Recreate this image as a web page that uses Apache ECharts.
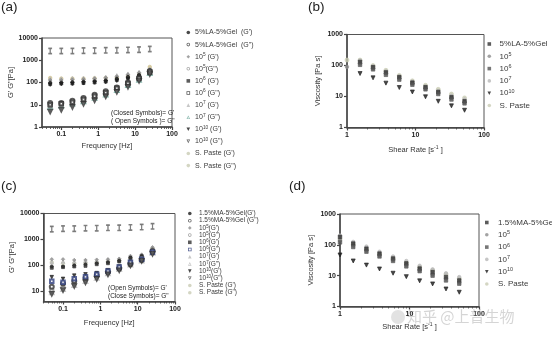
<!DOCTYPE html>
<html><head><meta charset="utf-8">
<script src="https://cdn.jsdelivr.net/npm/echarts@6/dist/echarts.min.js"></script>
<style>html,body{margin:0;padding:0;background:#fff}#c{width:552px;height:344px}</style>
</head><body><div id="c"></div><script>
// ---------- data ----------
const freq = [0.05, 0.1, 0.2, 0.4, 0.8, 1.6, 3.2, 6.4, 12.8, 25];
const shear = [1, 1.55, 2.4, 3.7, 5.8, 9, 14, 21.5, 33.5, 52];
const freqTicks = [0.1, 1, 10, 100];
const shearTicks = [1, 10, 100];
const gTicksA = [1, 10, 100, 1000, 10000];
const gTicksC = [10, 100, 1000, 10000];
const viscTicks = [1, 10, 100, 1000];

// panel (a) G' / G'' [Pa]
const aLA_G1 = [100, 100, 105, 110, 115, 125, 150, 180, 220, 300];
const aLA_G2 = [12, 12, 15, 20, 28, 40, 60, 100, 160, 330];
const a5_G1 = [130, 130, 135, 140, 150, 165, 190, 230, 280, 380];
const a5_G2 = [9, 10, 12, 16, 22, 32, 50, 85, 150, 300];
const a6_G1 = [85, 90, 90, 95, 100, 110, 130, 160, 200, 280];
const a6_G2 = [10, 11, 13, 17, 24, 35, 55, 90, 150, 290];
const a7_G1 = [150, 150, 155, 160, 165, 180, 210, 250, 300, 420];
const a7_G2 = [8, 9, 11, 14, 20, 28, 45, 75, 130, 260];
const a10_G1 = [80, 85, 88, 92, 100, 105, 120, 140, 180, 250];
const a10_G2 = [5, 6, 8, 11, 16, 24, 38, 65, 120, 240];
const aSP_G1 = [2600, 2600, 2600, 2700, 2700, 2800, 2800, 2900, 3000, 3200];
const aSP_G2 = [160, 150, 150, 150, 155, 160, 170, 190, 240, 500];

// panel (b) viscosity [Pa s]
const bLA = ['-', 130, 88, 60, 42, 28, 20, 14, 9.5, 7];
const b5 = [90, 115, 80, 55, 38, 26, 18, 13, 9, 6.5];
const b6 = ['-', 105, 75, 50, 35, 24, 17, 12, 8, 6];
const b7 = ['-', 145, 95, 65, 45, 30, 21, 15, 10.5, 8];
const b10 = ['-', 55, 40, 27, 19.5, 14, 9.8, 7, 5, 3.6];
const bSP = [150, 150, 100, 70, 48, 32, 23, 17, 12, 9];

// panel (c) G' / G'' [Pa]
const cMA_G1 = [90, 90, 100, 110, 120, 130, 150, 200, 230, 400];
const cMA_G2 = [15, 20, 25, 32, 40, 55, 75, 110, 160, 350];
const c5_G1 = [170, 170, 160, 160, 165, 170, 180, 230, 260, 500];
const c5_G2 = [11, 14, 20, 28, 38, 55, 80, 120, 180, 380];
const c6_G1 = [80, 85, 90, 95, 110, 120, 140, 190, 220, 380];
const c6_G2 = [24, 22, 30, 36, 45, 60, 85, 130, 170, 320];
const c7_G1 = [130, 140, 140, 150, 155, 165, 175, 220, 250, 450];
const c7_G2 = [9, 12, 17, 24, 32, 48, 70, 105, 150, 300];
const c10_G1 = [35, 30, 40, 45, 50, 65, 90, 130, 180, 330];
const c10_G2 = [8, 11, 16, 22, 30, 45, 65, 100, 150, 280];
const cSP_G1 = [2500, 2600, 2600, 2700, 2700, 2800, 2800, 2900, 3000, 3200];
const cSP_G2 = [130, 120, 120, 125, 130, 140, 155, 180, 220, 450];

// panel (d) viscosity [Pa s]
const dMA = [180, 110, 75, 52, 36, 25, 17, 13, 9, 7];
const d5 = [140, 95, 65, 45, 32, 22, 15, 11, 8, 6];
const d6 = [120, 85, 60, 42, 30, 20, 14, 10, 7, 5.5];
const d7 = [200, 125, 88, 60, 42, 30, 21, 16, 12, 9];
const d10 = [47, 30, 22, 16.5, 12, 9.3, 6.8, 5.4, 3.7, 2.9];
const dSP = [150, 100, 70, 50, 36, 26, 19, 15, 11, 8];

// legend labels
const labels = {
  aLA1: "5%LA-5%Gel  (G')", aLA2: '5%LA-5%Gel  (G")', a51: "10{s|5} (G')", a52: '10{s|5}(G")',
  a61: "10{s|6} (G')", a62: '10{s|6} (G")', a71: "10{s|7} (G')", a72: '10{s|7} (G")',
  a101: "10{s|10} (G')", a102: '10{s|10} (G")', aSP1: "S. Paste (G')", aSP2: 'S. Paste (G")',
  bLA: '5%LA-5%Gel', b5: '10{s|5}', b6: '10{s|6}', b7: '10{s|7}', b10: '10{s|10}', bSP: 'S. Paste',
  cMA1: "1.5%MA-5%Gel(G')", cMA2: '1.5%MA-5%Gel (G")', c51: "10{s|5}(G')", c52: '10{s|5}(G")',
  c61: "10{s|6}(G')", c62: '10{s|6}(G")', c71: "10{s|7}(G')", c72: '10{s|7}(G")',
  c101: "10{s|10}(G')", c102: '10{s|10}(G")', cSP1: "S. Paste (G')", cSP2: 'S. Paste (G")',
  dMA: '1.5%MA-5%Gel', d5: '10{s|5}', d6: '10{s|6}', d7: '10{s|7}', d10: '10{s|10}', dSP: 'S. Paste'
};

// ---------- styling ----------
const FONT = 'Liberation Sans, Arial, sans-serif';
const C = { black: '#1c1c1c', dark: '#333', gray: '#8c8c8c', light: '#b8b8b8', pale: '#c9ccb4', teal: '#6fa99c', navy: '#2d3c7a', tan: '#cdbf8a' };
const IBEAM = 'path://M0,0H6V1H3.6V9H6V10H0V9H2.4V1H0Z';
const RING = 'path://M5,0A5,5,0,1,1,5,10A5,5,0,1,1,5,0ZM5,2.2A2.8,2.8,0,1,0,5,7.8A2.8,2.8,0,1,0,5,2.2Z';
const FRAME = 'path://M0,0H10V10H0ZM2.2,2.2V7.8H7.8V2.2Z';
const TRIO = 'path://M5,0L10,10H0ZM5,4L2.9,8.3H7.1Z';
const TRI_DN = 'path://M0,0H10L5,10Z';
const TRIO_DN = 'path://M0,0H10L5,10ZM2.9,1.7L5,6L7.1,1.7Z';
const legendIcon = {};

function pts(xs, ys) { return xs.map((x, i) => [x, ys[i]]); }
function S(name, xi, yi, xs, ys, symbol, color, size, rot) {
  const down = rot === 180;
  legendIcon[name] = symbol === 'emptyCircle' ? RING : symbol === 'emptyRect' ? FRAME :
    symbol === 'emptyTriangle' ? (down ? TRIO_DN : TRIO) :
    symbol === 'triangle' ? (down ? TRI_DN : 'triangle') :
    symbol.indexOf('path://') === 0 ? 'circle' : symbol;
  return {
    type: 'scatter', name: name, xAxisIndex: xi, yAxisIndex: yi, data: pts(xs, ys),
    symbol: symbol, symbolSize: size, symbolRotate: rot || 0,
    itemStyle: { color: color, borderColor: color, borderWidth: 0.8 },
    emphasis: { disabled: true }, silent: true, animation: false
  };
}
function minorVals(lo, hi) {
  const out = [];
  for (let d = 1e-3; d < hi; d *= 10) for (let k = 2; k <= 9; k++) { const v = +(d * k).toPrecision(3); if (v >= lo && v <= hi) out.push(v); }
  return out;
}
const axisCol = '#444';
function xMain(gi, min, max, ticks, name, gap) {
  return {
    type: 'log', gridIndex: gi, min: min, max: max, position: 'bottom',
    name: name, nameLocation: 'middle', nameGap: gap,
    nameTextStyle: { fontFamily: FONT, fontSize: 7.5, color: '#333', rich: { s: { fontSize: 5, verticalAlign: 'top', lineHeight: 5, fontFamily: FONT, color: '#333' } } },
    axisLine: { show: true, lineStyle: { color: axisCol, width: 1.5 } },
    axisTick: { show: true, inside: false, length: 3, customValues: ticks, lineStyle: { color: axisCol, width: 1.2 } },
    axisLabel: { customValues: ticks, margin: 4, fontFamily: FONT, fontSize: 7, fontWeight: 'bold', color: '#222', formatter: v => String(v) },
    splitLine: { show: false }
  };
}
function xMinor(gi, min, max) {
  return {
    type: 'log', gridIndex: gi, min: min, max: max, position: 'bottom',
    axisLine: { show: false },
    axisTick: { show: true, inside: false, length: 2, customValues: minorVals(min, max), lineStyle: { color: axisCol, width: 0.8 } },
    axisLabel: { show: false }, splitLine: { show: false }
  };
}
function yAx(gi, min, max, ticks, name, gap) {
  return {
    type: 'log', gridIndex: gi, min: min, max: max,
    name: name, nameLocation: 'middle', nameGap: gap,
    nameTextStyle: { fontFamily: FONT, fontSize: 7.5, color: '#333' },
    axisLine: { show: true, lineStyle: { color: axisCol, width: 1.5 } },
    axisTick: { show: true, inside: false, length: 3, customValues: ticks, lineStyle: { color: axisCol, width: 1.2 } },
    axisLabel: { customValues: ticks, margin: 4, fontFamily: FONT, fontSize: 7, fontWeight: 'bold', color: '#222', formatter: v => String(v) },
    splitLine: { show: false }
  };
}
function legend(names, left, top, gap, fs, lh, padL, spNames) {
  return {
    orient: 'vertical', left: left, top: top, itemGap: gap, itemWidth: 3.6, itemHeight: 3.6, padding: 0,
    selectedMode: false, itemStyle: { borderWidth: 0 }, symbolRotate: 0,
    data: names.map(n => spNames.indexOf(n) >= 0
      ? { name: n, icon: 'circle', itemStyle: { color: C.pale, borderWidth: 0 } }
      : { name: n, icon: legendIcon[n], symbolRotate: 0 }),
    formatter: n => labels[n],
    textStyle: { fontFamily: FONT, fontSize: fs, lineHeight: lh, color: '#3a3a3a', padding: [0, 0, 0, padL],
      rich: { s: { fontSize: fs * 0.68, lineHeight: lh * 0.6, verticalAlign: 'top', fontFamily: FONT, color: '#3a3a3a' } } }
  };
}

const grids = [
  { left: 42, top: 38, width: 130, height: 89 },
  { left: 347, top: 34.5, width: 137, height: 93 },
  { left: 43.5, top: 213.5, width: 131.5, height: 88 },
  { left: 340, top: 214, width: 139, height: 92.5 }
].map(g => Object.assign({ show: true, borderColor: '#555', borderWidth: 1, backgroundColor: 'transparent' }, g));

const series = [
  // (a)
  S('aSP1', 0, 0, freq, aSP_G1, IBEAM, '#6e6e6e', [3.2, 6]),
  S('aSP2', 0, 0, freq, aSP_G2, 'circle', C.tan, 3.5),
  S('a71', 0, 0, freq, a7_G1, 'triangle', C.light, 3.5),
  S('a51', 0, 0, freq, a5_G1, 'diamond', C.gray, 3.5),
  S('aLA1', 0, 0, freq, aLA_G1, 'circle', C.black, 3),
  S('a61', 0, 0, freq, a6_G1, 'rect', C.dark, 3),
  S('a101', 0, 0, freq, a10_G1, 'triangle', C.black, 3.5, 180),
  S('a72', 0, 0, freq, a7_G2, 'emptyTriangle', C.teal, 3.5),
  S('a52', 0, 0, freq, a5_G2, 'emptyCircle', C.gray, 3.5),
  S('aLA2', 0, 0, freq, aLA_G2, 'emptyCircle', C.dark, 4),
  S('a62', 0, 0, freq, a6_G2, 'emptyRect', C.dark, 3.5),
  S('a102', 0, 0, freq, a10_G2, 'emptyTriangle', C.dark, 3.5, 180),
  // (b)
  S('bSP', 2, 1, shear, bSP, 'circle', C.pale, 4),
  S('b7', 2, 1, shear, b7, 'circle', C.light, 3.5),
  S('b5', 2, 1, shear, b5, 'circle', C.gray, 3.5),
  S('bLA', 2, 1, shear, bLA, 'rect', C.dark, 3.5),
  S('b6', 2, 1, shear, b6, 'rect', '#555', 3.5),
  S('b10', 2, 1, shear, b10, 'triangle', C.black, 4, 180),
  // (c)
  S('cSP1', 4, 2, freq, cSP_G1, IBEAM, '#6e6e6e', [3.2, 6]),
  S('cSP2', 4, 2, freq, cSP_G2, 'circle', C.pale, 3.5),
  S('c71', 4, 2, freq, c7_G1, 'triangle', C.light, 3.5),
  S('c51', 4, 2, freq, c5_G1, 'diamond', C.gray, 3.5),
  S('cMA1', 4, 2, freq, cMA_G1, 'circle', C.black, 3),
  S('c61', 4, 2, freq, c6_G1, 'rect', C.dark, 3),
  S('c101', 4, 2, freq, c10_G1, 'triangle', C.black, 3.5, 180),
  S('c72', 4, 2, freq, c7_G2, 'emptyTriangle', C.light, 3.5),
  S('c52', 4, 2, freq, c5_G2, 'emptyCircle', C.gray, 3.5),
  S('cMA2', 4, 2, freq, cMA_G2, 'emptyCircle', C.dark, 4),
  S('c62', 4, 2, freq, c6_G2, 'emptyRect', C.navy, 3.5),
  S('c102', 4, 2, freq, c10_G2, 'emptyTriangle', C.dark, 3.5, 180),
  // (d)
  S('dSP', 6, 3, shear, dSP, 'circle', C.pale, 4),
  S('d7', 6, 3, shear, d7, 'circle', C.light, 3.5),
  S('d5', 6, 3, shear, d5, 'circle', C.gray, 3.5),
  S('dMA', 6, 3, shear, dMA, 'rect', C.dark, 3.5),
  S('d6', 6, 3, shear, d6, 'rect', '#555', 3.5),
  S('d10', 6, 3, shear, d10, 'triangle', C.black, 4, 180)
];

const aNames = ['aLA1', 'aLA2', 'a51', 'a52', 'a61', 'a62', 'a71', 'a72', 'a101', 'a102', 'aSP1', 'aSP2'];
const bNames = ['bLA', 'b5', 'b6', 'b7', 'b10', 'bSP'];
const cNames = ['cMA1', 'cMA2', 'c51', 'c52', 'c61', 'c62', 'c71', 'c72', 'c101', 'c102', 'cSP1', 'cSP2'];
const dNames = ['dMA', 'd5', 'd6', 'd7', 'd10', 'dSP'];

function txt(x, y, s, size, extra) {
  return { type: 'text', left: x, top: y, silent: true, z: 50,
    style: Object.assign({ text: s, fontFamily: FONT, fontSize: size, fill: '#222' }, extra || {}) };
}

const option = {
  backgroundColor: '#fff',
  animation: false,
  grid: grids,
  xAxis: [
    xMain(0, 0.03, 100, freqTicks, 'Frequency [Hz]', 15), xMinor(0, 0.03, 100),
    xMain(1, 1, 100, shearTicks, 'Shear Rate [s{s|-1} ]', 18), xMinor(1, 1, 100),
    xMain(2, 0.03, 100, freqTicks, 'Frequency [Hz]', 17), xMinor(2, 0.03, 100),
    xMain(3, 1, 100, shearTicks, 'Shear Rate [s{s|-1} ]', 16), xMinor(3, 1, 100)
  ],
  yAxis: [
    yAx(0, 1, 10000, gTicksA, 'G\' G"[Pa]', 27),
    yAx(1, 1, 1000, viscTicks, 'Viscosity [Pa s]', 25),
    yAx(2, 4, 10000, gTicksC, 'G\' G"[Pa]', 28),
    yAx(3, 1, 1000, viscTicks, 'Viscosity [Pa s]', 25)
  ],
  legend: [
    legend(aNames, 186.5, 28, 3.1, 7, 9, 0, ['aSP1', 'aSP2']),
    legend(bNames, 487.5, 39.5, 3.3, 8, 9, 3.5, ['bSP']),
    legend(cNames, 188, 210, 0.2, 6.5, 7, 2.3, ['cSP1', 'cSP2']),
    legend(dNames, 485, 218, 3.3, 8, 9, 4.5, ['dSP'])
  ],
  graphic: [
    txt(1, 0, '(a)', 13.5), txt(308, 0, '(b)', 13.5), txt(1, 179, '(c)', 13.5), txt(289, 179, '(d)', 13.5),
    txt(111, 109.5, "(Closed Symbols)= G'", 6.5), txt(111, 118, '( Open Symbols )= G"', 6.5),
    txt(108, 284.5, "(Open Symbols)= G'", 6.5), txt(108, 293, '(Close Symbols)= G"', 6.5),
    { type: 'circle', shape: { cx: 398, cy: 317, r: 7 }, style: { fill: 'rgba(160,160,160,0.3)' }, silent: true, z: 60 },
    txt(407, 309, '知乎 @上普生物', 15, { fill: 'rgba(150,150,150,0.4)', fontFamily: 'Noto Sans CJK SC' })
  ],
  series: series
};
const chart = echarts.init(document.getElementById('c'), null, { renderer: 'canvas' });
chart.setOption(option);
</script></body></html>
